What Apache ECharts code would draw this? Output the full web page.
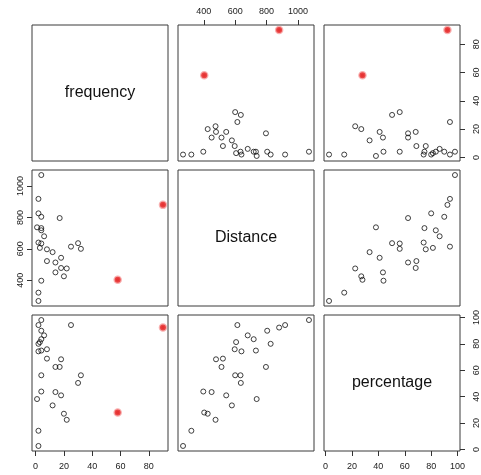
<!DOCTYPE html>
<html><head><meta charset="utf-8">
<script src="https://cdn.jsdelivr.net/npm/echarts@6/dist/echarts.min.js"></script>
<style>html,body{margin:0;padding:0;background:#fff}#c{width:481px;height:475px}</style>
</head><body><div id="c"></div>
<script>
const variables = ['frequency', 'Distance', 'percentage'];
const frequency = [4, 2, 90, 2, 4, 17, 1, 4, 4, 6, 30, 4, 2, 32, 8, 3, 25, 12, 18, 8, 14, 18, 22, 14, 20, 58, 4, 2, 2];
const distance = [1070, 918, 880, 826, 804, 796, 737, 732, 718, 680, 636, 634, 640, 600, 597, 606, 614, 579, 543, 522, 513, 478, 475, 450, 425, 403, 397, 321, 268];
const percentage = [98, 94.2, 92.3, 80, 89.9, 62.5, 38.2, 74.9, 83.5, 86.4, 50.4, 56.2, 74.3, 56.2, 75.9, 81.3, 94.2, 33.4, 41, 68.8, 62.5, 68.3, 22.5, 43.5, 27.1, 28, 43.9, 14.2, 2.7];
const highlightIdx = [2, 25];
const tickFrequency = [0, 20, 40, 60, 80];
const tickDistance = [400, 600, 800, 1000];
const tickPercentage = [0, 20, 40, 60, 80, 100];

const cols = [frequency, distance, percentage];
const ticks = [tickFrequency, tickDistance, tickPercentage];
function range(a) { const mn = Math.min(...a), mx = Math.max(...a), p = (mx - mn) * 0.04; return [mn - p, mx + p]; }
const lefts = [32, 178, 324], tops = [25, 170, 315], W = 136, H = 136;
const FONT = '"Liberation Sans", Arial, sans-serif';
const fmt = v => String(v);

const grid = [], xAxis = [], yAxis = [], series = [], graphic = [];
for (let i = 0; i < 3; i++) {
  for (let j = 0; j < 3; j++) {
    const k = i * 3 + j;
    grid.push({ left: lefts[j], top: tops[i], width: W, height: H, show: true, borderColor: '#3a3a3a', borderWidth: 1, backgroundColor: '#fff', containLabel: false });
    const rx = range(cols[j]), ry = range(cols[i]);
    const showX = (i === 0 && j === 1) || (i === 2 && (j === 0 || j === 2));
    const showY = (j === 0 && i === 1) || (j === 2 && (i === 0 || i === 2));
    xAxis.push({
      gridIndex: k, type: 'value', min: rx[0], max: rx[1], position: (i === 0) ? 'top' : 'bottom', show: showX,
      axisLine: { show: false, onZero: false }, splitLine: { show: false },
      axisTick: { show: true, inside: false, length: 5, lineStyle: { color: '#333' }, customValues: ticks[j] },
      axisLabel: { show: true, customValues: ticks[j], formatter: fmt, margin: i === 0 ? 9 : 11, fontSize: 9, color: '#222', fontFamily: FONT }
    });
    yAxis.push({
      gridIndex: k, type: 'value', min: ry[0], max: ry[1], position: (j === 0) ? 'left' : 'right', show: showY,
      axisLine: { show: false, onZero: false }, splitLine: { show: false },
      axisTick: { show: true, inside: false, length: 5, lineStyle: { color: '#333' }, customValues: ticks[i] },
      axisLabel: { show: true, customValues: ticks[i], formatter: fmt, rotate: 90, margin: j === 0 ? 7 : 12, fontSize: 9, color: '#222', fontFamily: FONT }
    });
    if (i === j) {
      graphic.push({ type: 'text', x: lefts[j] + W / 2, y: tops[i] + H / 2, silent: true,
        style: { text: variables[i], font: '16px ' + FONT, fill: '#111', textAlign: 'center', textVerticalAlign: 'middle' } });
      continue;
    }
    const hl = (i === 0 || j === 0);
    const normal = [], red = [];
    for (let n = 0; n < frequency.length; n++) {
      const pt = [cols[j][n], cols[i][n]];
      if (hl && highlightIdx.includes(n)) red.push(pt); else normal.push(pt);
    }
    series.push({ type: 'scatter', xAxisIndex: k, yAxisIndex: k, data: normal, symbol: 'circle', symbolSize: 5, silent: true,
      itemStyle: { color: 'rgba(0,0,0,0)', borderColor: '#111', borderWidth: 1 } });
    if (red.length) series.push({ type: 'scatter', xAxisIndex: k, yAxisIndex: k, data: red, symbol: 'circle', symbolSize: 6, silent: true,
      itemStyle: { color: '#e00000', borderColor: 'rgba(240,90,90,0.6)', borderWidth: 2.5 } });
  }
}
const chart = echarts.init(document.getElementById('c'), null, { renderer: 'canvas' });
chart.setOption({ animation: false, backgroundColor: '#fff', grid, xAxis, yAxis, series, graphic });
</script></body></html>
